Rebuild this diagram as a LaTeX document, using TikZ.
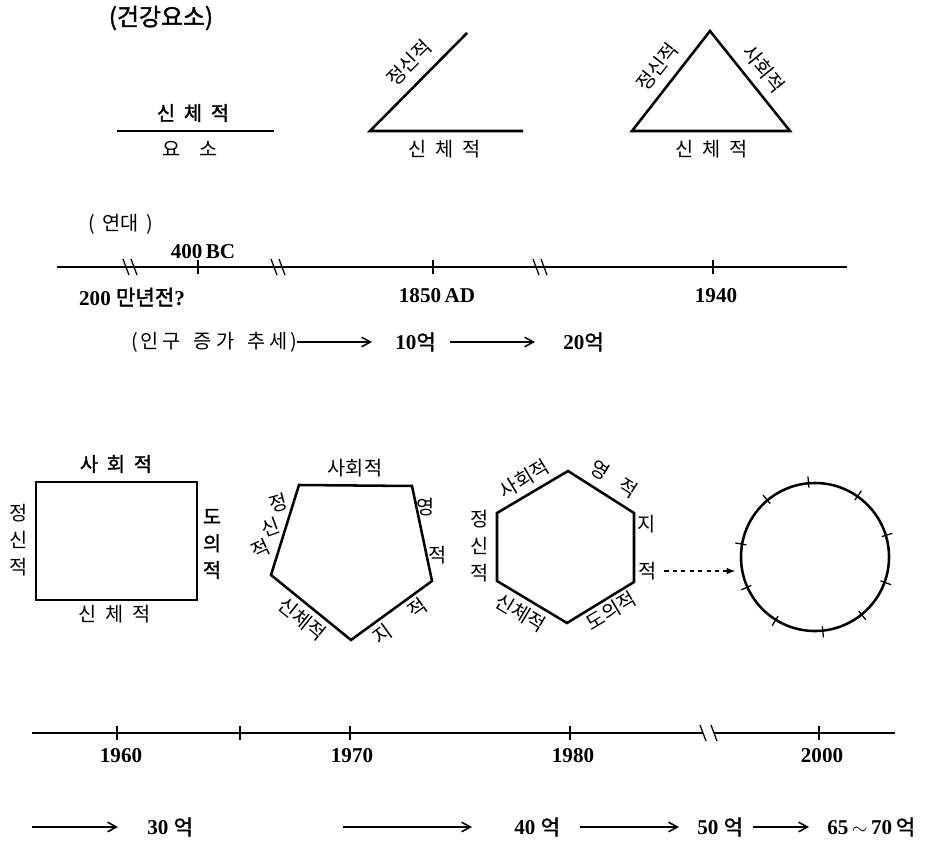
\documentclass[tikz,border=0pt]{standalone}
\usepackage{fontspec}
\setmainfont{Liberation Serif}
\newfontfamily\kr{Noto Sans CJK KR}[BoldFont={Noto Sans CJK KR},BoldFeatures={FakeBold=1.6}]
\usepackage{tikz}
\usetikzlibrary{arrows.meta,calc}
\newcommand{\gp}{\hspace{0.45em}}

\begin{document}
\begin{tikzpicture}[
  x=0.025cm,y=-0.025cm,
  txt/.style={inner sep=0pt,align=center,font=\kr\fontsize{14}{19}\selectfont},
  hdr/.style={inner sep=0pt,align=center,font=\kr\bfseries\fontsize{14}{19}\selectfont},
  num/.style={inner sep=0pt,font=\bfseries\fontsize{15}{17}\selectfont},
  side/.style={line width=1.8pt,line join=miter},
  axis/.style={line width=1pt},
  tickmark/.style={line width=0.9pt},
  popline/.style={-{Straight Barb[length=2.2mm,width=2.4mm]},line width=1.1pt}
]
\useasboundingbox (0,0) rectangle (934,846);

% health elements
\node[hdr,font=\kr\bfseries\fontsize{17}{19}\selectfont] (title) at (161,18) {(건강요소)};

\coordinate (a1) at (117,131);
\coordinate (a2) at (274,131);
\draw[side] (a1) -- (a2);
\node[hdr] (atop) at (193,113) {신\gp 체\gp 적};
\node[txt] (abot) at (190,149) {요\hspace{1em}소};

\coordinate (b1) at (370,131);
\coordinate (b2) at (523,131);
\coordinate (b3) at (467,33);
\draw[side] (b3) -- (b1) -- (b2);
\node[txt,rotate=45] (bl) at (409,63) {정신적};
\node[txt] (bb) at (445,149) {신\gp 체\gp 적};

\coordinate (c1) at (632,131);
\coordinate (c2) at (710,31);
\coordinate (c3) at (790,131);
\draw[side] (c1) -- (c2) -- (c3) -- cycle;
\node[txt,rotate=52] (cl) at (657,67) {정신적};
\node[txt,rotate=-51] (cr) at (764,69) {사회적};
\node[txt] (cb) at (712,149) {신\gp 체\gp 적};

% years
\node[txt] (era) at (121,224) {(\hspace{0.4em}연대\hspace{0.4em})};
\coordinate (t0) at (57,267);
\coordinate (t1) at (847,267);
\draw[axis] (t0) -- (t1);
\foreach \x in {198,433,713}
  \draw[tickmark] (\x,260) -- (\x,274);
\foreach \x in {126,134,274,282,536,544}
  \draw[tickmark] (\x-3,259) -- (\x+3,275);
\node[num] (bc) at (203,252) {400\,BC};
\node[num] (myr) at (132,297) {200 {\kr 만년전}?};
\node[num] (ad) at (437,296) {1850\,AD};
\node[num] (y40) at (716,296) {1940};

% population
\node[txt,anchor=east] (trend) at (297,342) {(\hspace{0.1em}인\hspace{0.2em}구\hspace{0.7em}증\hspace{0.2em}가\hspace{0.7em}추\hspace{0.2em}세\hspace{0.1em})};
\node[num,anchor=west] (pop10) at (395,342) {10{\kr 억}};
\node[num,anchor=west] (pop20) at (563,342) {20{\kr 억}};
\draw[popline,shorten >=5.75mm] (trend.east) -- (pop10.west);
\draw[popline,shorten <=3.5mm,shorten >=7mm] (pop10.east) -- (pop20.west);

% four, five, six elements
\coordinate (r1) at (36,482);
\coordinate (r2) at (197,600);
\draw[side] (r1) rectangle (r2);
\node[hdr] (rt) at (116,464) {사\gp 회\gp 적};
\node[txt] (rl) at (19,540) {정\\신\\적};
\node[hdr] (rr) at (212,544) {도\\의\\적};
\node[txt] (rb) at (115,614) {신\gp 체\gp 적};

\coordinate (q1) at (299,485);
\coordinate (q2) at (412,486);
\coordinate (q3) at (432,581);
\coordinate (q4) at (351,640);
\coordinate (q5) at (271,575);
\draw[side] (q1) -- (q2) -- (q3) -- (q4) -- (q5) -- cycle;
\node[txt] (qsoc) at (355,468) {사회적};
\node[txt,rotate=15] (qm1) at (278,503) {정};
\node[txt,rotate=20] (qm2) at (270,527) {신};
\node[txt,rotate=25] (qm3) at (261,549) {적};
\node[txt] (qs1) at (426,507) {영};
\node[txt] (qs2) at (438,555) {적};
\node[txt,rotate=-39] (qphy) at (302,619) {신체적};
\node[txt,rotate=36] (qint) at (400,621) {지\hspace{1.3em}적};

\coordinate (h1) at (568,471);
\coordinate (h2) at (634,513);
\coordinate (h3) at (634,582);
\coordinate (h4) at (567,623);
\coordinate (h5) at (497,581);
\coordinate (h6) at (497,513);
\draw[side] (h1) -- (h2) -- (h3) -- (h4) -- (h5) -- (h6) -- cycle;
\node[txt,rotate=31] (hsoc) at (524,479) {사회적};
\node[txt,rotate=-32] (hspi) at (614,479) {영\hspace{0.8em}적};
\node[txt] (hji) at (647,524) {지};
\node[txt] (hjeok) at (648,571) {적};
\node[txt] (hmen) at (480,546) {정\\신\\적};
\node[txt,rotate=-31] (hphy) at (521,613) {신체적};
\node[txt,rotate=31] (hmor) at (611,611) {도의적};

\node[circle,draw,line width=1.8pt,minimum size=3.7cm,inner sep=0pt] (ring) at (815,557) {};
\foreach \a in {95,55,17,-20,-51,-84,-122,-156,170,130}
  \draw[tickmark] ($(ring.\a)!-4pt!(ring.center)$) -- ($(ring.\a)!4pt!(ring.center)$);
\draw[dashed,line width=1.1pt,-{Latex[length=2.2mm]},shorten <=5pt,shorten >=3pt] (hjeok.east) -- (hjeok.east -| ring.west);

% 1960 - 2000
\coordinate (u0) at (32,733);
\coordinate (u1) at (703,733);
\coordinate (u2) at (714,733);
\coordinate (u3) at (895,733);
\draw[axis] (u0) -- (u1);
\draw[axis] (u2) -- (u3);
\foreach \x in {117,240,350,570,819}
  \draw[tickmark] (\x,726) -- (\x,740);
\foreach \x in {703,714}
  \draw[tickmark] (\x-3,725) -- (\x+3,741);
\node[num] (y60) at (121,756) {1960};
\node[num] (y70) at (352,756) {1970};
\node[num] (y80) at (573,756) {1980};
\node[num] (y00) at (822,756) {2000};

\coordinate (s0) at (32,827);
\coordinate (s1) at (343,827);
\node[num,anchor=west] (pop30) at (147,827) {30 {\kr 억}};
\node[num,anchor=west] (pop40) at (514,827) {40 {\kr 억}};
\node[num,anchor=west] (pop50) at (697,827) {50 {\kr 억}};
\node[num,anchor=west] (pop65) at (827,827) {65\,$\sim$\,70\,{\kr 억}};
\draw[popline,shorten >=7.25mm] (s0) -- (pop30.west);
\draw[popline,shorten >=10.5mm] (s1) -- (pop40.west);
\draw[popline,shorten <=5mm,shorten >=4.5mm] (pop40.east) -- (pop50.west);
\draw[popline,shorten <=2.5mm,shorten >=4.5mm] (pop50.east) -- (pop65.west);
\end{tikzpicture}
\end{document}
